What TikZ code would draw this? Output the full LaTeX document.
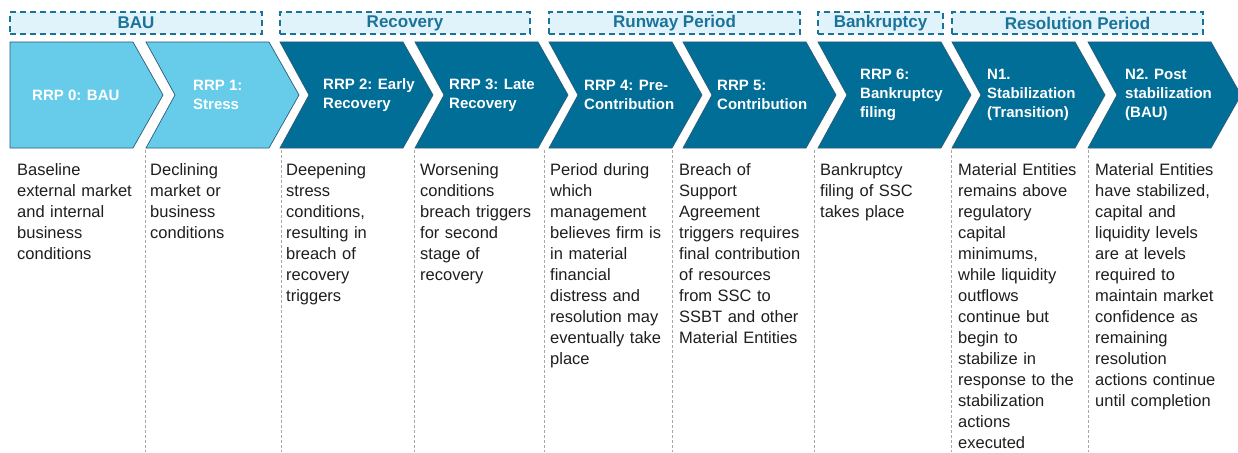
\documentclass[tikz,border=0pt]{standalone}
\usepackage{fontspec}
\setmainfont{Liberation Sans}

\definecolor{azulclaro}{HTML}{66CCEA}
\definecolor{azulescuro}{HTML}{006E96}
\definecolor{contorno}{HTML}{2E5B78}
\definecolor{fundofase}{HTML}{E0F3FA}
\definecolor{corfase}{HTML}{1B7399}
\definecolor{divisoria}{HTML}{A8A8A8}
\definecolor{texto}{HTML}{1E1E1E}

\tikzset{
  fase/.style={draw=corfase, fill=fundofase, line width=1.5pt, dash pattern=on 6pt off 4pt,
    minimum height=22, inner sep=0pt, text=corfase, font=\fontsize{17}{19}\selectfont\bfseries},
  chevron/.style={draw=contorno, line width=0.7pt},
  rotulo/.style={anchor=west, align=left, inner sep=0pt, text=white,
    font=\fontsize{15}{19}\selectfont\bfseries},
  descricao/.style={anchor=north west, align=left, text width=128, inner sep=0pt, text=texto,
    font=\fontsize{16.5}{21}\selectfont},
  divisor/.style={draw=divisoria, line width=0.8pt, dash pattern=on 3pt off 2pt}
}

\begin{document}
\begin{tikzpicture}[x=1pt, y=-1pt]
   \useasboundingbox (0,0) rectangle (1238,452);

   % Definição das fases
   \node[fase, minimum width=252] (bau)        at (136,23)   {BAU};
   \node[fase, minimum width=250] (recovery)   at (405,23)   {Recovery};
   \node[fase, minimum width=251] (runway)     at (674.5,23) {Runway Period};
   \node[fase, minimum width=125] (bankruptcy) at (880.5,23) {Bankruptcy};
   \node[fase, minimum width=251] (resolution) at (1077.5,23) {Resolution Period};

   % Definição das setas
   \foreach \x/\cor/\n in {10/azulclaro/0, 146/azulclaro/29, 280/azulescuro/29,
                           415/azulescuro/29, 549/azulescuro/29, 683/azulescuro/29,
                           818/azulescuro/29, 952/azulescuro/29, 1088/azulescuro/29}
     \draw[chevron, fill=\cor] (\x,42) -- ++(123,0) -- ++(30,53) -- ++(-30,53)
        -- ++(-123,0) -- ++(\n,-53) -- cycle;

   \node[rotulo] (rrp0) at (32,95)   {RRP 0: BAU};
   \node[rotulo] (rrp1) at (193,95)  {RRP 1:\\Stress};
   \node[rotulo] (rrp2) at (323,95)  {RRP 2: Early\\Recovery};
   \node[rotulo] (rrp3) at (449,95)  {RRP 3: Late\\Recovery};
   \node[rotulo] (rrp4) at (584,95)  {RRP 4: Pre-\\Contribution};
   \node[rotulo] (rrp5) at (717,95)  {RRP 5:\\Contribution};
   \node[rotulo] (rrp6) at (860,95)  {RRP 6:\\Bankruptcy\\filing};
   \node[rotulo] (n1)   at (987,95)  {N1.\\Stabilization\\(Transition)};
   \node[rotulo] (n2)   at (1125,95) {N2. Post\\stabilization\\(BAU)};

   % Divisórias
   \foreach \x in {145, 281, 414, 544, 672, 814, 951, 1088}
     \draw[divisor] (\x,150) -- (\x,452);

   % Descrições
   \node[descricao] (dbau)   at (17,163)   {Baseline\\external market\\and internal\\business\\conditions};
   \node[descricao] (dstress) at (150,163) {Declining\\market or\\business\\conditions};
   \node[descricao] (dearly) at (286,163)  {Deepening\\stress\\conditions,\\resulting in\\breach of\\recovery\\triggers};
   \node[descricao] (dlate)  at (420,163)  {Worsening\\conditions\\breach triggers\\for second\\stage of\\recovery};
   \node[descricao] (dpre)   at (550,163)  {Period during\\which\\management\\believes firm is\\in material\\financial\\distress and\\resolution may\\eventually take\\place};
   \node[descricao] (dcontr) at (679,163)  {Breach of\\Support\\Agreement\\triggers requires\\final contribution\\of resources\\from SSC to\\SSBT and other\\Material Entities};
   \node[descricao] (dbank)  at (820,163)  {Bankruptcy\\filing of SSC\\takes place};
   \node[descricao] (dstab)  at (958,163)  {Material Entities\\remains above\\regulatory\\capital\\minimums,\\while liquidity\\outflows\\continue but\\begin to\\stabilize in\\response to the\\stabilization\\actions\\executed};
   \node[descricao] (dpost)  at (1095,163) {Material Entities\\have stabilized,\\capital and\\liquidity levels\\are at levels\\required to\\maintain market\\confidence as\\remaining\\resolution\\actions continue\\until completion};
\end{tikzpicture}
\end{document}
